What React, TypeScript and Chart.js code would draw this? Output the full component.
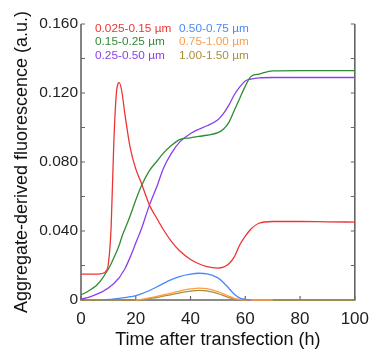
import React, { useEffect, useRef } from "react";
import { Chart, registerables } from "chart.js";

Chart.register(...registerables);

const times = [0, 2, 4, 6, 8, 9, 10, 11, 12, 13, 14, 15, 16, 18, 20, 22, 25, 28, 30, 33, 36, 40, 43, 46, 50, 52, 54, 56, 58, 60, 62, 65, 70, 80, 90, 100];

const seriesLabels = ["0.025-0.15 µm", "0.15-0.25 µm", "0.25-0.50 µm", "0.50-0.75 µm", "0.75-1.00 µm", "1.00-1.50 µm"];
const seriesColors = ["#ee3434", "#2f8c35", "#8a40ee", "#4a88fa", "#ff9c45", "#a88f3c"];

const red = [0.015, 0.015, 0.015, 0.015, 0.0155, 0.0165, 0.021, 0.042, 0.092, 0.121, 0.126, 0.12, 0.108, 0.088, 0.076, 0.068, 0.055, 0.0465, 0.041, 0.034, 0.0285, 0.0235, 0.021, 0.0193, 0.0185, 0.019, 0.021, 0.025, 0.032, 0.037, 0.041, 0.0445, 0.0455, 0.0455, 0.0453, 0.0452];
const green = [0.003, 0.0045, 0.0065, 0.009, 0.013, 0.0155, 0.018, 0.021, 0.0245, 0.028, 0.032, 0.037, 0.041, 0.049, 0.058, 0.066, 0.075, 0.081, 0.085, 0.0895, 0.093, 0.094, 0.0948, 0.0955, 0.097, 0.099, 0.103, 0.11, 0.117, 0.124, 0.1295, 0.131, 0.1328, 0.133, 0.133, 0.133];
const purple = [0.0005, 0.0012, 0.0022, 0.0035, 0.005, 0.006, 0.007, 0.0083, 0.0096, 0.0113, 0.013, 0.0155, 0.018, 0.025, 0.033, 0.041, 0.055, 0.067, 0.076, 0.085, 0.0915, 0.0965, 0.099, 0.101, 0.1045, 0.108, 0.113, 0.119, 0.1235, 0.127, 0.128, 0.1288, 0.129, 0.129, 0.129, 0.129];
const blue = [null, null, null, null, 0, 0.0002, 0.0003, 0.0004, 0.0006, 0.0008, 0.001, 0.0012, 0.0014, 0.0019, 0.0025, 0.0035, 0.0055, 0.0078, 0.0095, 0.0118, 0.0136, 0.015, 0.0155, 0.0152, 0.0128, 0.0102, 0.0068, 0.0033, 0.0011, 0.0004, 0, null, null, null, null, null];
const orange = [null, null, null, null, null, null, null, null, null, null, null, null, null, null, 0, 0.0004, 0.0012, 0.0022, 0.0029, 0.004, 0.0052, 0.0064, 0.0069, 0.0066, 0.0048, 0.0036, 0.0022, 0.001, 0.0003, 0, 0, 0, 0, null, null, null];
const tan = [0, 0, 0, 0, 0, 0, 0, 0, 0, 0, 0, 0, 0, 0, 0, 0, 0.0008, 0.0016, 0.0022, 0.0031, 0.0041, 0.0051, 0.0056, 0.0053, 0.0037, 0.0026, 0.0014, 0.0005, 0.0001, 0, 0, 0, 0, 0, 0, 0];

const seriesValues = [red, green, purple, blue, orange, tan];

const xTickStep = 20;
const yTickStep = 0.02;
const yLabelStep = 0.04;

const FONT = "'Liberation Sans', Arial, sans-serif";
const AXIS_COLOR = "#666666";

const framePlugin = {
  id: "frame",
  beforeDatasetsDraw(chart: any) {
    const { ctx, chartArea, scales } = chart;
    const { left, right, bottom, top } = chartArea;
    ctx.save();
    ctx.strokeStyle = AXIS_COLOR;
    ctx.lineWidth = 1.6;
    ctx.beginPath();
    ctx.moveTo(left, top);
    ctx.lineTo(left, bottom);
    ctx.lineTo(right, bottom);
    ctx.lineTo(right, top);
    ctx.stroke();
    ctx.lineWidth = 1.2;
    const tl = 4;
    scales.y.ticks.forEach((t: any) => {
      const py = scales.y.getPixelForValue(t.value);
      ctx.beginPath();
      ctx.moveTo(left, py);
      ctx.lineTo(left + tl, py);
      ctx.moveTo(right, py);
      ctx.lineTo(right - tl, py);
      ctx.stroke();
    });
    scales.x.ticks.forEach((t: any) => {
      const px = scales.x.getPixelForValue(t.value);
      ctx.beginPath();
      ctx.moveTo(px, bottom);
      ctx.lineTo(px, bottom - tl);
      ctx.stroke();
    });
    ctx.restore();
  },
};

const legendPlugin = {
  id: "innerLegend",
  afterDraw(chart: any) {
    const { ctx, chartArea } = chart;
    ctx.save();
    ctx.font = `11.8px ${FONT}`;
    ctx.textBaseline = "middle";
    ctx.textAlign = "left";
    chart.data.datasets.forEach((ds: any, i: number) => {
      const col = Math.floor(i / 3);
      const row = i % 3;
      const x = chartArea.left + 14 + col * 84;
      const y = chartArea.top + 4.5 + row * 13.5;
      ctx.fillStyle = ds.borderColor;
      ctx.fillText(ds.label, x, y);
    });
    ctx.restore();
  },
};

export default function App() {
  const ref = useRef<HTMLCanvasElement | null>(null);
  useEffect(() => {
    if (!ref.current) return;
    const datasets = seriesLabels.map((label, i) => ({
      label,
      data: times.map((t, j) => ({ x: t, y: seriesValues[i][j] })),
      borderColor: seriesColors[i],
      backgroundColor: seriesColors[i],
      borderWidth: 1.3,
      pointRadius: 0,
      cubicInterpolationMode: "monotone" as const,
      spanGaps: false,
      clip: 4,
    }));
    const chart = new Chart(ref.current, {
      type: "line",
      data: { datasets },
      options: {
        animation: false,
        responsive: false,
        layout: { padding: { top: 24, right: 18, left: 0, bottom: 0 } },
        plugins: { legend: { display: false }, tooltip: { enabled: false } },
        scales: {
          x: {
            type: "linear",
            min: 0,
            max: 100,
            grid: { display: false, drawTicks: false },
            border: { display: false },
            ticks: { stepSize: xTickStep, color: "#222", padding: 9, font: { family: FONT, size: 17 } },
            title: { display: true, text: "Time after transfection (h)", color: "#111", font: { family: FONT, size: 18 }, padding: { top: 0, bottom: 7 } },
            afterFit: (s: any) => { s.height = 58; },
          },
          y: {
            min: 0,
            max: 0.16,
            grid: { display: false, drawTicks: false },
            border: { display: false },
            ticks: {
              stepSize: yTickStep,
              color: "#222",
              padding: 3,
              font: { family: FONT, size: 15.5 },
              callback: (v: any) => {
                const n = Number(v);
                if (Math.abs(n) < 1e-9) return "0";
                const r = n / yLabelStep;
                if (Math.abs(r - Math.round(r)) > 1e-6) return "";
                return n.toFixed(3);
              },
            },
            title: { display: true, text: "Aggregate-derived fluorescence (a.u.)", color: "#111", font: { family: FONT, size: 18 }, padding: { top: 11, bottom: 0 } },
            afterFit: (s: any) => { s.width = 81; },
          },
        },
      },
      plugins: [framePlugin, legendPlugin],
    });
    return () => chart.destroy();
  }, []);
  return (
    <div style={{ position: "fixed", left: 0, top: 0, width: 378, height: 358, background: "#fff" }}>
      <canvas ref={ref} width={378} height={358} style={{ display: "block" }} />
    </div>
  );
}
